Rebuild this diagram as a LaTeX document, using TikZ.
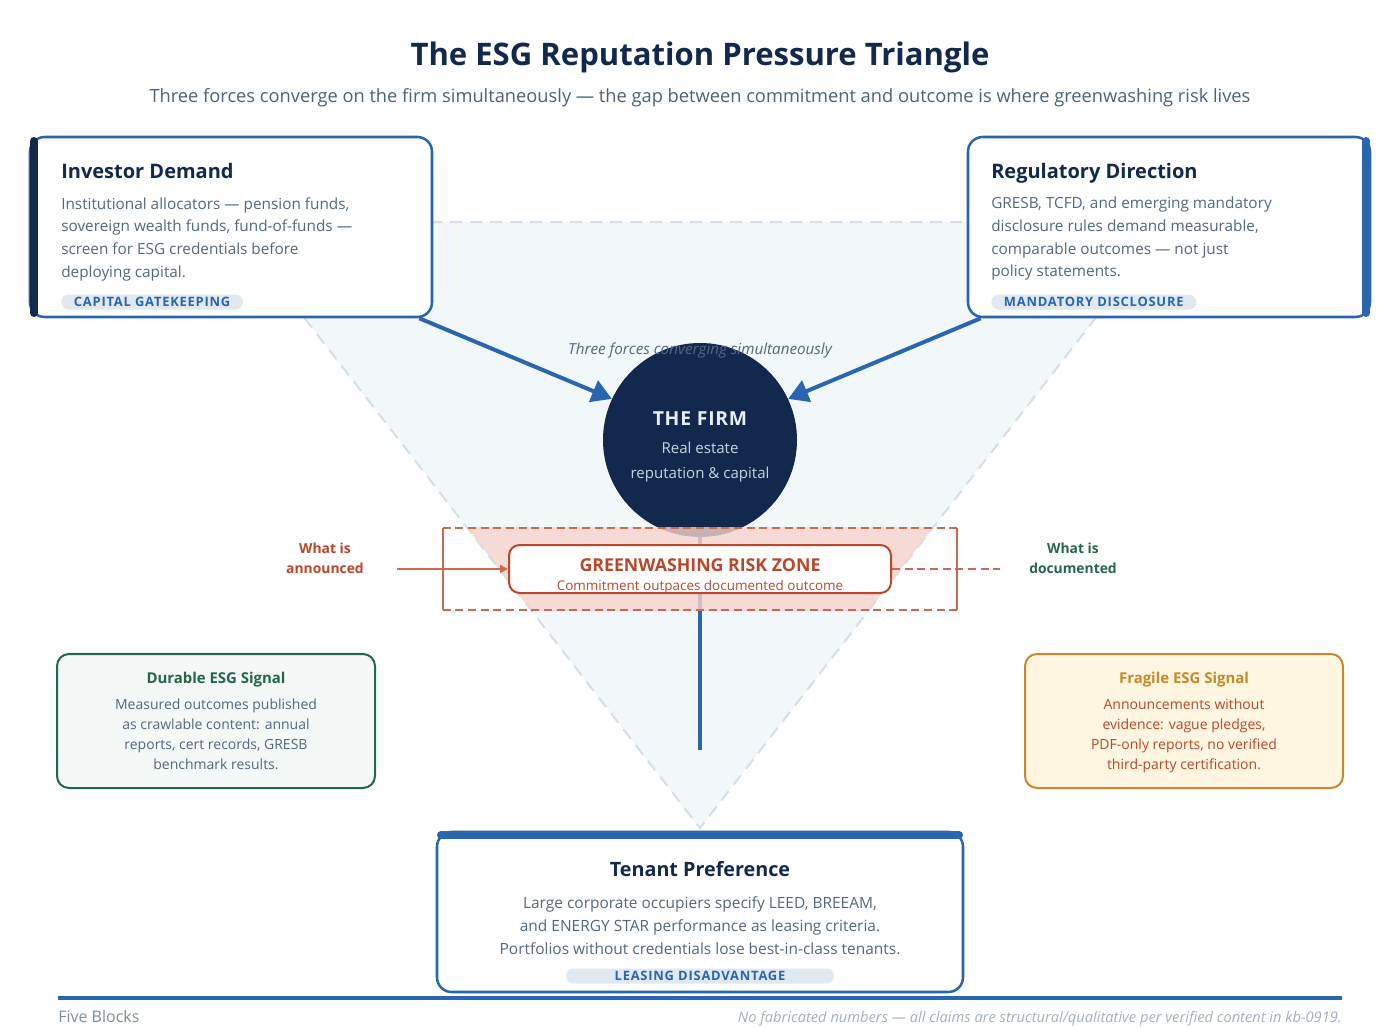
\documentclass[tikz,border=0pt]{standalone}
\usepackage{fontspec}
\setmainfont{Open Sans}
\usetikzlibrary{arrows.meta}
\definecolor{esgnavy}{HTML}{12294D}
\definecolor{esgblue}{HTML}{2A66AF}
\definecolor{esgtext}{HTML}{53687E}
\definecolor{esgsub}{HTML}{4D6278}
\definecolor{esgtri}{HTML}{F2F7FA}
\definecolor{esgtriedge}{HTML}{D4DFE8}
\definecolor{esgred}{HTML}{B9472B}
\definecolor{esgzone}{HTML}{C9694F}
\definecolor{esgpink}{HTML}{F6D3CD}
\definecolor{esggreen}{HTML}{24684A}
\definecolor{esggreenbg}{HTML}{F4F8F6}
\definecolor{esgamber}{HTML}{C7892A}
\definecolor{esgamberbg}{HTML}{FEF6E0}
\definecolor{esgpill}{HTML}{E0E8F0}
\definecolor{esgfoot}{HTML}{7D8DA0}
\definecolor{esgnote}{HTML}{A2B0BF}
\definecolor{esgmoon}{HTML}{C4D3E2}
\definecolor{esgfirmtxt}{HTML}{E8EEF5}
\newcommand{\esgsize}[2]{\fontsize{#1}{#2}\selectfont}

\tikzset{
  forcebox/.style={draw=esgblue, line width=1.9pt, fill=white, rounded corners=11pt, inner sep=0pt},
  signalbox/.style={line width=1.5pt, rounded corners=9pt, inner sep=0pt, minimum width=238.5pt, minimum height=100.5pt},
  boxtitle/.style={font=\bfseries\esgsize{15}{18}, text=esgnavy, inner sep=0pt},
  boxbody/.style={font=\esgsize{11.5}{17}, text=esgtext, inner sep=0pt, execute at begin node=\strut},
  pill/.style={fill=esgpill, rounded corners=5.6pt, text=esgblue, font=\bfseries\esgsize{9.7}{10}\addfontfeature{LetterSpace=6}, minimum height=11.25pt, inner ysep=0pt, inner xsep=9.5pt},
  force/.style={draw=esgblue, line width=3pt, -{Triangle[length=15pt,width=17pt]}},
  zoneline/.style={draw=esgzone, line width=1.4pt},
  signaltitle/.style={font=\bfseries\esgsize{11.2}{14}, inner sep=0pt, anchor=base},
  signalbody/.style={font=\esgsize{10.5}{15}, inner sep=0pt, align=center, anchor=north, execute at begin node=\strut},
  sidelabel/.style={font=\bfseries\esgsize{10.4}{15}, inner sep=0pt, align=center, anchor=north, execute at begin node=\strut}
}

\begin{document}
\begin{tikzpicture}[x=0.75pt,y=-0.75pt]
\useasboundingbox[fill=white] (0,0) rectangle (1400,1028); %Page frame

%Heading
\node[font=\bfseries\esgsize{23.3}{28}, text=esgnavy, inner sep=0pt, anchor=base] (title) at (700,65) {The ESG Reputation Pressure Triangle};
\node[font=\esgsize{13.7}{16}, text=esgsub, inner sep=0pt, anchor=base] (subtitle) at (700,102) {Three forces converge on the firm simultaneously --- the gap between commitment and outcome is where greenwashing risk lives};

%Background triangle
\fill[esgtri] (230,222) -- (1170,222) -- (700,828) -- cycle;
\draw[esgtriedge, line width=1.5pt, dash pattern=on 9pt off 6pt] (230,222) -- (1170,222) -- (700,828) -- cycle;

%Investor box
\node[forcebox, minimum width=301.5pt, minimum height=135pt] (inv) at (231,227) {};
\draw[esgnavy, line width=6pt, line cap=round] (34,141) -- (34,313); %Left accent bar
\node[boxtitle, anchor=base west] (invT) at (61,178) {Investor Demand};
\node[boxbody, anchor=north west, align=left] (invB) at (61,197) {Institutional allocators --- pension funds,\\sovereign wealth funds, fund-of-funds ---\\screen for ESG credentials before\\deploying capital.};
\node[pill, anchor=west] (invP) at (61,302) {CAPITAL GATEKEEPING};

%Regulatory box
\node[forcebox, minimum width=301.5pt, minimum height=135pt] (reg) at (1169,227) {};
\draw[esgblue, line width=6pt, line cap=round] (1366,141) -- (1366,313); %Right accent bar
\node[boxtitle, anchor=base west] (regT) at (991,178) {Regulatory Direction};
\node[boxbody, anchor=north west, align=left] (regB) at (991,197) {GRESB, TCFD, and emerging mandatory\\disclosure rules demand measurable,\\comparable outcomes --- not just\\policy statements.};
\node[pill, anchor=west] (regP) at (991,302) {MANDATORY DISCLOSURE};

%The firm
\node[circle, fill=esgnavy, minimum size=145.5pt, inner sep=0pt] (firm) at (700,440) {};
\draw[force] ([xshift=-10.5pt]inv.south east) -- (firm.155);
\draw[force] ([xshift=10.5pt]reg.south west) -- (firm.25);
\node[font=\itshape\esgsize{11.4}{13}, text=esgtext, inner sep=0pt, anchor=base] (converge) at (700,354) {Three forces converging simultaneously};
\node[font=\bfseries\esgsize{14.5}{16}\addfontfeature{LetterSpace=4}, text=esgfirmtxt, inner sep=0pt, anchor=base] (firmT) at (700,425) {THE FIRM};
\node[font=\esgsize{11.3}{18.75}, text=esgmoon, inner sep=0pt, align=center, anchor=north, execute at begin node=\strut] (firmB) at (700,442) {Real estate\\reputation \& capital};

%Stem down to tenant
\coordinate (stemend) at (700,750);
\draw[esgblue, line width=2.6pt] (firm.south) -- (stemend);

%Greenwashing risk zone
\node[minimum width=385.5pt, minimum height=61.5pt, inner sep=0pt] (zone) at (700,569) {};
\begin{scope}
\clip (zone.south west) rectangle (zone.north east);
\fill[esgpink, opacity=0.8] (230,222) -- (1170,222) -- (700,828) -- cycle; %Pink inside triangle
\end{scope}
\draw[zoneline, dash pattern=on 6pt off 3.5pt] (zone.north west) -- (zone.north east);
\draw[zoneline, dash pattern=on 6pt off 3.5pt] (zone.south west) -- (zone.south east);
\draw[zoneline] (zone.north west) -- (zone.south west);
\draw[zoneline] (zone.north east) -- (zone.south east);
\node[draw=esgred, line width=1.5pt, fill=white, rounded corners=8pt, minimum width=286.5pt, minimum height=36pt, inner sep=0pt] (risk) at (700,569) {};
\node[font=\bfseries\esgsize{13.3}{15}, text=esgred, inner sep=0pt, anchor=base] (riskT) at (700,571) {GREENWASHING RISK ZONE};
\node[font=\esgsize{10.1}{12}, text=esgred, inner sep=0pt, anchor=base] (riskB) at (700,590) {Commitment outpaces documented outcome};

%Side labels
\node[sidelabel, text=esgred] (announced) at (325,543) {What is\\announced};
\coordinate (annstart) at (397,569);
\draw[zoneline, line width=1.1pt, -{Triangle[length=6pt,width=6pt]}] (annstart) -- (risk.west);
\node[sidelabel, text=esggreen] (documented) at (1073,543) {What is\\documented};
\coordinate (docend) at (1000,569);
\draw[zoneline, line width=1.1pt, dash pattern=on 6pt off 3.5pt] (risk.east) -- (docend);

%Signal boxes
\node[signalbox, draw=esggreen, fill=esggreenbg] (durable) at (216,721) {};
\node[signaltitle, text=esggreen] (durableT) at (216,683) {Durable ESG Signal};
\node[signalbody, text=esgtext] (durableB) at (216,699) {Measured outcomes published\\as crawlable content: annual\\reports, cert records, GRESB\\benchmark results.};
\node[signalbox, draw=esgamber, fill=esgamberbg] (fragile) at (1184,721) {};
\node[signaltitle, text=esgamber] (fragileT) at (1184,683) {Fragile ESG Signal};
\node[signalbody, text=esgred] (fragileB) at (1184,699) {Announcements without\\evidence: vague pledges,\\PDF-only reports, no verified\\third-party certification.};

%Tenant box
\node[forcebox, minimum width=394.5pt, minimum height=120pt] (ten) at (700,912) {};
\draw[esgblue, line width=6pt, line cap=round] (441,835) -- (959,835); %Top accent bar
\node[boxtitle, anchor=base, font=\bfseries\esgsize{14.8}{18}] (tenT) at (700,876) {Tenant Preference};
\node[boxbody, anchor=north, align=center, font=\esgsize{11.6}{17.25}] (tenB) at (700,896) {Large corporate occupiers specify LEED, BREEAM,\\and ENERGY STAR performance as leasing criteria.\\Portfolios without credentials lose best-in-class tenants.};
\node[pill, minimum width=201pt] (tenP) at (700,976) {LEASING DISADVANTAGE};

%Footer
\coordinate (footL) at (58,998);
\coordinate (footR) at (1342,998);
\draw[esgblue, line width=3pt] (footL) -- (footR);
\node[font=\esgsize{12}{14}, text=esgfoot, inner sep=0pt, anchor=base west] (brand) at (58,1022) {Five Blocks};
\node[font=\itshape\esgsize{11}{13}, text=esgnote, inner sep=0pt, anchor=base east] (note) at (1342,1022) {No fabricated numbers --- all claims are structural/qualitative per verified content in kb-0919.};
\end{tikzpicture}
\end{document}
